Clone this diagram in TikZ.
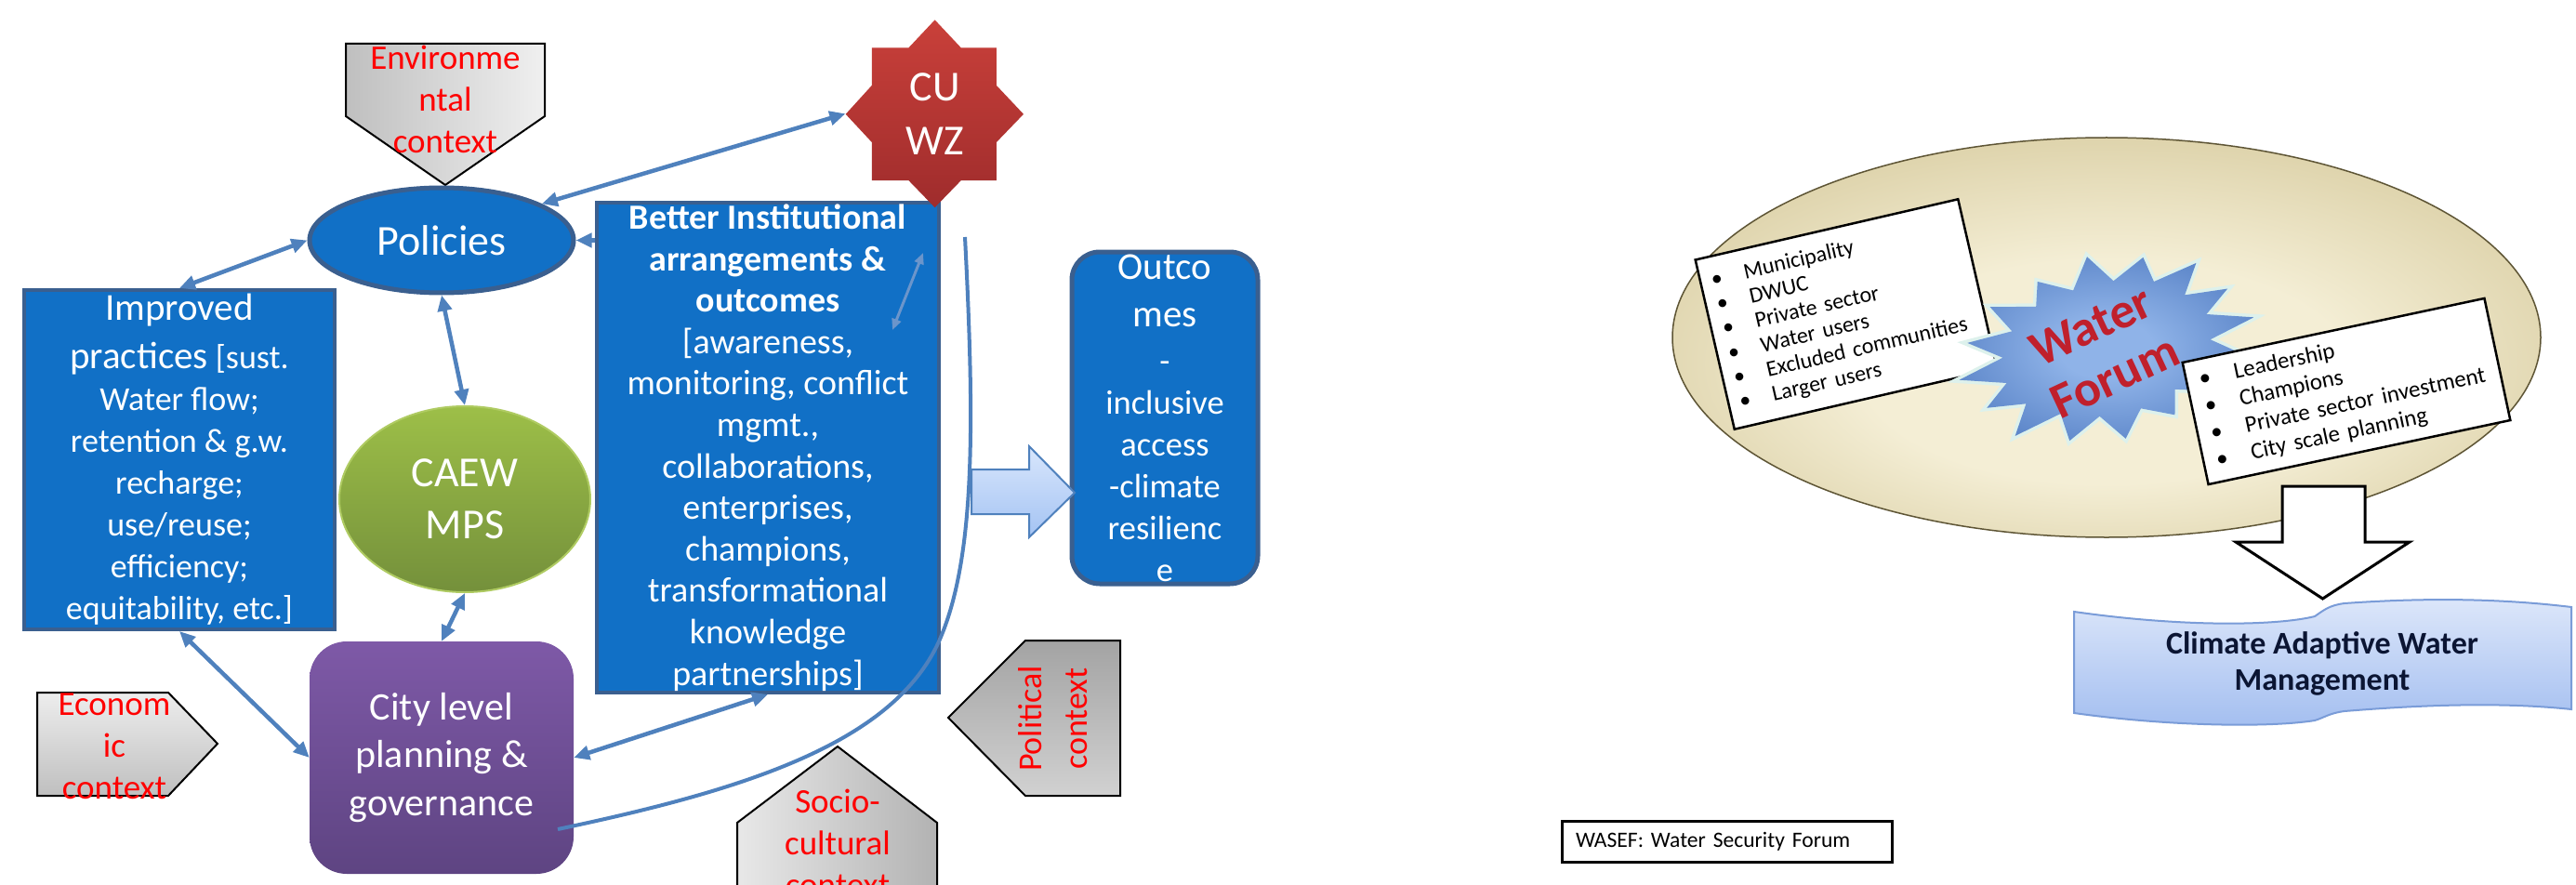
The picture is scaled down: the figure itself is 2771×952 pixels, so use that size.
\documentclass[tikz,border=0pt]{standalone}
\usepackage{fontspec}
\setmainfont{Carlito}
\usetikzlibrary{arrows.meta,shapes.geometric,calc}
\definecolor{bblue}{HTML}{1170C6}
\definecolor{bedge}{HTML}{3A5F8F}
\definecolor{arrblue}{HTML}{4F81BD}
\definecolor{cuTop}{HTML}{C9403A}
\definecolor{cuBot}{HTML}{9F2C2C}
\definecolor{gTop}{HTML}{9DBF48}
\definecolor{gBot}{HTML}{74903B}
\definecolor{gEdge}{HTML}{AFCB62}
\definecolor{pTop}{HTML}{7E59A7}
\definecolor{pBot}{HTML}{5E4482}
\definecolor{tanIn}{HTML}{F4EED5}
\definecolor{tanOut}{HTML}{BBA96A}
\definecolor{tanEdge}{HTML}{5E5535}
\definecolor{wfIn}{HTML}{8FB3E8}
\definecolor{wfOut}{HTML}{2353A6}
\definecolor{wfGlow}{HTML}{DDF1EC}
\definecolor{wfRed}{HTML}{C0202C}
\definecolor{banTop}{HTML}{DDE7FA}
\definecolor{banBot}{HTML}{A3BEF0}
\definecolor{banEdge}{HTML}{7A9CD8}
\definecolor{barTop}{HTML}{D8E6FC}
\definecolor{barBot}{HTML}{A4C3F3}
\definecolor{innerArr}{HTML}{6B95CB}
\definecolor{navy}{HTML}{0B1533}
\pgfdeclareradialshading{tanshade}{\pgfpoint{0bp}{-6bp}}{color(0bp)=(tanIn); color(14bp)=(tanIn); color(50bp)=(tanOut)}
\pgfdeclareradialshading{wfshade}{\pgfpointorigin}{color(0bp)=(wfIn); color(8bp)=(wfIn); color(50bp)=(wfOut)}
\newcommand{\myfs}[2]{\fontsize{#1}{#2}\selectfont}
\newcommand{\lbul}{\makebox[36pt][l]{\textbullet}}
\newcommand{\rbul}{\makebox[38pt][l]{\textbullet}}
\begin{document}
\begin{tikzpicture}[x=1pt,y=-1pt,
  conn/.style={draw=arrblue, line width=4.5pt, {Triangle[length=17pt,width=15pt]}-{Triangle[length=17pt,width=15pt]}},
  bluebox/.style={rectangle, fill=bblue, draw=bedge, line width=4pt, inner sep=0pt, text=white, align=center},
  ctx/.style={draw=black, line width=2pt},
  ctxtext/.style={text=red, align=center, font=\myfs{37}{45}},
  listbox/.style={rectangle, draw=black, line width=2.5pt, fill=white, align=left, text=black}]

\clip (0,0) rectangle (2771,952);
\fill[white] (0,0) rectangle (2771,952);

% ---------- context shapes ----------
\path[ctx, left color=black!25, right color=black!6] (372,47) -- (586,47) -- (586,125) -- (479,199) -- (372,125) -- cycle;
\node[ctxtext] (envt) at (479,107) {Environme\\ntal\\context};

\path[ctx, top color=black!7, bottom color=black!25] (40,745) -- (181,745) -- (234,800) -- (181,856) -- (40,856) -- cycle;
\node[ctxtext] (econt) at (123,803) {Econom\\ic\\context};

\path[ctx, left color=black!9, right color=black!30] (793,885) -- (901,803) -- (1008,885) -- (1008,1000) -- (793,1000) -- cycle;
\node[ctxtext] (sociot) at (901,907) {Socio-\\cultural\\context};

\path[ctx, top color=black!36, bottom color=black!18] (1020,772) -- (1103,689) -- (1205,689) -- (1205,856) -- (1103,856) -- cycle;
\node[ctxtext, rotate=90, font=\myfs{36}{49}] (polt) at (1132.5,773) {Political\\context};

% ---------- main boxes ----------
\node[bluebox, minimum width=334pt, minimum height=365pt, font=\myfs{36}{45}] (improved) at (193,494.5)
  {{\myfs{41}{45}Improved}\\[7pt]{\myfs{41}{45}practices} [sust.\\Water flow;\\retention \& g.w.\\recharge;\\use/reuse;\\efficiency;\\equitability, etc.]};

\node[bluebox, minimum width=368pt, minimum height=527pt, font=\myfs{38}{44.6}] (better) at (826,481.5)
  {\textbf{Better Institutional}\\\textbf{arrangements \&}\\\textbf{outcomes}\\{[}awareness,\\monitoring, conflict\\mgmt.,\\collaborations,\\enterprises,\\champions,\\transformational\\knowledge\\partnerships]};

\node[bluebox, rounded corners=30pt, line width=5pt, minimum width=200pt, minimum height=357pt, font=\myfs{36.5}{45}] (outcomes) at (1253,449.5)
  {{\myfs{41}{45}Outco}\\[6pt]{\myfs{41}{45}mes}\\[4pt]-\\inclusive\\access\\-climate\\resilienc\\e};

\node[ellipse, fill=bblue, draw=bedge, line width=5pt, minimum width=284pt, minimum height=113pt, inner sep=0pt, text=white, font=\myfs{46}{55}] (policies) at (475,258.5) {Policies};

\node[ellipse, top color=gTop, bottom color=gBot, draw=gEdge, line width=2pt, minimum width=270pt, minimum height=200pt, inner sep=0pt, text=white, align=center, font=\myfs{46}{56}] (caew) at (500,537) {CAEW\\MPS};

\node[rectangle, rounded corners=40pt, top color=pTop, bottom color=pBot, minimum width=284pt, minimum height=250pt, inner sep=0pt, text=white, align=center, font=\myfs{42}{51.5}] (city) at (475,815) {City level\\planning \&\\governance};

% ---------- CUWZ star ----------
\path[top color=cuTop, bottom color=cuBot] (1005.6,21.4) -- (1033.7,51.3) -- (1071.9,51.3) -- (1071.9,91.9) -- (1101,122.8) -- (1071.9,153) -- (1071.9,194.2) -- (1033.7,194.2) -- (1005.6,223.2) -- (977.5,194.2) -- (937.8,194.2) -- (937.8,153) -- (909.7,122.8) -- (937.8,91.9) -- (937.8,51.3) -- (977.5,51.3) -- cycle;
\node[circle, minimum size=192pt, inner sep=0pt, text=white, align=center, font=\myfs{46}{58}] (cuwz) at (1005.6,122.3) {CU\\WZ};

% ---------- connectors ----------
\draw[conn] (policies.20) -- (cuwz.west);
\draw[draw=arrblue, line width=4.5pt, -{Triangle[length=17pt,width=15pt]}] (policies.east -| better.west) -- (policies.east);
\draw[conn] (improved.north) -- (policies.west);
\draw[conn] (policies.south) -- (caew.north);
\draw[conn] (caew.south) -- (city.north);
\draw[conn] (improved.south) -- (city.west);
\draw[conn] (city.east) -- (better.south);

\coordinate (ia) at (993,272);
\coordinate (ib) at (960,355);
\draw[draw=innerArr, line width=3pt, {Triangle[length=12pt,width=10pt]}-{Triangle[length=12pt,width=10pt]}] (ia) -- (ib);

% ---------- block arrow and curve ----------
\path[top color=barTop, bottom color=barBot, draw=arrblue, line width=2pt] (1045,505) -- (1107,505) -- (1107,480) -- (1156,530) -- (1107,578) -- (1107,553) -- (1045,553) -- cycle;
\coordinate (cs) at (1038,255);
\coordinate (ce) at (600,892);
\draw[arrblue, line width=4pt] (cs) .. controls (1048,450) and (1050,600) .. (1010,690) .. controls (960,800) and (800,850) .. (ce);

% ---------- right side ----------
\node[ellipse, shade, shading=tanshade, draw=tanEdge, line width=1.5pt, minimum width=934pt, minimum height=430pt] (forum) at (2266,363) {};

\node[listbox, rotate=13, minimum width=290pt, minimum height=187pt, inner xsep=12pt, text width=266pt, font=\myfs{24}{27}] (lbox) at (1986,338)
  {\lbul Municipality\\\lbul DWUC\\\lbul Private sector\\\lbul Water users\\\lbul Excluded communities\\\lbul Larger users};

\begin{scope}[shift={(2266,375)}, rotate=12, xscale=1.62, yscale=1.0]
\path[preaction={draw=wfGlow, line width=7pt}, shade, shading=wfshade]
 (0:100) -- (11.25:70) -- (22.5:95) -- (33.75:72) -- (45:101) -- (56.25:70) -- (67.5:92) -- (78.75:72) -- (90:99) -- (101.25:71) -- (112.5:96) -- (123.75:70) -- (135:101) -- (146.25:72) -- (157.5:93) -- (168.75:71) -- (180:100) -- (191.25:70) -- (202.5:97) -- (213.75:71) -- (225:99) -- (236.25:72) -- (247.5:93) -- (258.75:70) -- (270:101) -- (281.25:71) -- (292.5:95) -- (303.75:72) -- (315:99) -- (326.25:70) -- (337.5:94) -- (348.75:71) -- cycle;
\end{scope}
\node[rotate=25, text=wfRed, align=center, font=\bfseries\myfs{54}{60}] (wf) at (2262,378) {Water\\Forum};

\node[listbox, rotate=12, minimum width=332pt, minimum height=134pt, inner xsep=14pt, text width=304pt, font=\myfs{25}{29.6}] (rbox) at (2524,421)
  {\rbul Leadership\\\rbul Champions\\\rbul Private sector investment\\\rbul City scale planning};

\draw[black, line width=3pt, fill=white] (2455,523) -- (2544,523) -- (2544,583) -- (2592,583) -- (2498.5,644) -- (2405,583) -- (2455,583) -- cycle;

\path[top color=banTop, bottom color=banBot, draw=banEdge, line width=2pt]
 (2231,658) .. controls (2350,675) and (2450,673) .. (2490,663)
 .. controls (2500,656) and (2506,651) .. (2522,649)
 .. controls (2620,642) and (2700,645) .. (2766,653)
 -- (2766,763)
 .. controls (2700,756) and (2620,757) .. (2522,765)
 .. controls (2506,767) and (2500,772) .. (2490,775)
 .. controls (2440,783) and (2330,781) .. (2231,767) -- cycle;
\node[text=navy, align=center, font=\bfseries\myfs{34}{39}] (cawm) at (2498,714) {Climate Adaptive Water\\Management};

\node[rectangle, draw=black, line width=3pt, minimum width=355pt, minimum height=44pt, inner xsep=15pt, text width=325pt, align=left, font=\myfs{23.6}{28}] (wasef) at (1857.5,905) {WASEF: Water Security Forum};

\end{tikzpicture}
\end{document}
